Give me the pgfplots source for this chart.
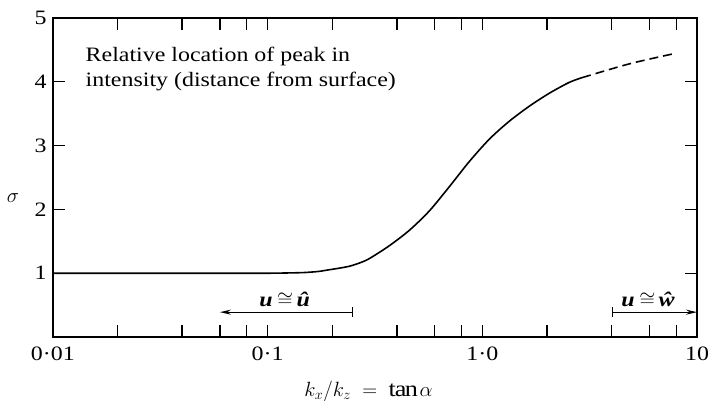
\documentclass[border=0pt]{standalone}
\usepackage{pgfplots}
\pgfplotsset{compat=1.18}
\usepackage{amsmath}
\usepackage{fontspec}
\setmainfont{Liberation Serif}[FakeStretch=1.17]
\usetikzlibrary{arrows.meta}
\newcommand\fs{\fontsize{20.5bp}{25bp}\selectfont}
\newcommand\bi[1]{{\bfseries\itshape #1}}
\newcommand\approxlabel[1]{\bi{u}$\mkern4mu{\cong}\mkern3mu$\bi{#1}}

% sigma versus k_x/k_z (solid part)
\pgfplotstableread{
x      s
0.010  1.00
0.030  1.00
0.060  1.00
0.100  1.00
0.1400 1.008
0.1568 1.016
0.1745 1.030
0.1943 1.055
0.2163 1.080
0.2407 1.110
0.2679 1.160
0.298  1.230
0.369  1.431
0.4575 1.673
0.567  1.977
0.702  2.355
0.870  2.750
1.078  3.100
1.335  3.381
1.654  3.616
2.049  3.819
2.539  3.990
2.918  4.065
}\solidpart
% extrapolated part (dashed)
\pgfplotstableread{
x      s
2.918  4.065
4.830  4.28
7.800  4.44
}\dashedpart

\begin{document}
\begin{tikzpicture}[font=\fs]
\begin{axis}[
  scale only axis,
  width=646bp, height=320bp,
  xmode=log,
  xmin=0.01, xmax=10,
  ymin=0, ymax=5,
  axis line style={line width=1.4bp},
  tick style={line width=1.3bp, black},
  major tick length=12bp,
  minor tick length=12bp,
  tick align=inside,
  xtick={0.01,0.1,1,10},
  xticklabels={0·01,0·1,1·0,10},
  minor xtick={0.02,0.04,0.06,0.08,0.2,0.4,0.6,0.8,2,4,6,8},
  ytick={1,2,3,4,5},
  yticklabels={1,2,3,4,5},
  xtick pos=both, ytick pos=both,
  xticklabel style={inner sep=0pt, yshift=-10bp},
  yticklabel style={inner sep=0pt, xshift=-6bp},
  xlabel={$k_x/k_z\;=\;\tan\alpha$},
  xlabel style={at={(rel axis cs:0.49,0)}, anchor=center, yshift=-54bp,
    font=\fontsize{22.5bp}{26bp}\selectfont},
  ylabel={$\sigma$},
  ylabel style={rotate=-90, at={(rel axis cs:0,0.434)}, anchor=center, xshift=-40bp},
  clip=false,
]
\addplot[line width=1.6bp, smooth, tension=0.5] table[x=x,y=s] {\solidpart};
\addplot[line width=1.6bp, smooth, dash pattern=on 9bp off 5bp] table[x=x,y=s] {\dashedpart};

% ranges of validity
\addplot[line width=1.2bp, {Bar[width=10bp]}-{Stealth[length=11bp,width=5bp]}] coordinates {(0.25,0.39) (0.06,0.39)};
\addplot[line width=1.2bp, {Bar[width=10bp]}-{Stealth[length=11bp,width=5bp]}] coordinates {(4,0.39) (10,0.39)};
\node[anchor=base, inner sep=0pt] at (axis cs:0.12,0.48) {\approxlabel{û}};
\node[anchor=base, inner sep=0pt] at (axis cs:5.92,0.48) {\approxlabel{ŵ}};

\node[anchor=north west, align=left, inner sep=0pt] at (axis cs:0.0142,4.55)
  {Relative location of peak in\\intensity (distance from surface)};

\coordinate (sw) at (rel axis cs:0,0);
\end{axis}
\pgfresetboundingbox
\path[use as bounding box] (sw) ++(-53bp,-65bp) rectangle ++(710bp,403bp);
\end{tikzpicture}
\end{document}
